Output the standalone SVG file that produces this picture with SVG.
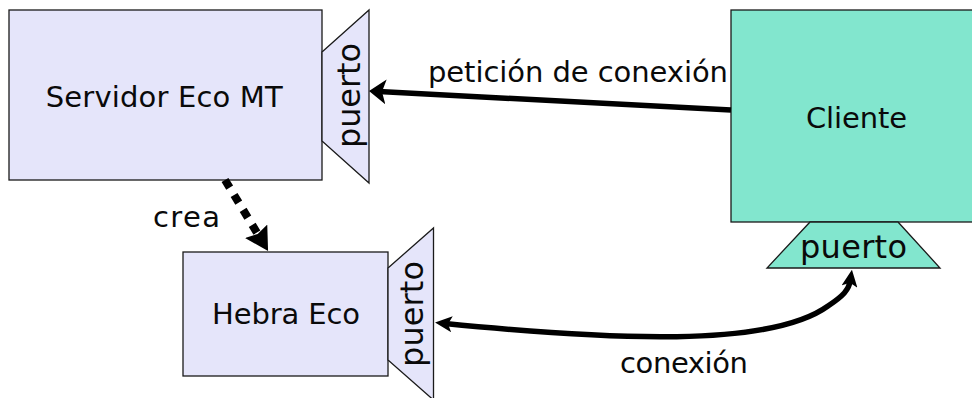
<svg xmlns="http://www.w3.org/2000/svg" width="972" height="398" viewBox="0 0 972 398">
  <style>
    .lav { fill: #E5E5FA; stroke: #1a1a1a; stroke-width: 1.3; }
    .aqua { fill: #82E6CE; stroke: #1a1a1a; stroke-width: 1.3; }
    text { font-family: "DejaVu Sans", Verdana, sans-serif; fill: #0a0a0a; }
    .lbl { font-size: 29px; }
    .port { font-size: 32px; }
    .conn { fill: none; stroke: #000; stroke-width: 5.5; }
    .dots { fill: none; stroke: #000; stroke-width: 8; stroke-dasharray: 9 8.5; }
  </style>
  <defs>
    <!-- large head for the request arrow -->
    <marker id="headL" viewBox="0 0 17 25" markerUnits="userSpaceOnUse" markerWidth="17" markerHeight="25" refX="7" refY="12.5" orient="auto">
      <path d="M0,0 L17,12.5 L0,25 L4,12.5 z" fill="#000"/>
    </marker>
    <!-- smaller head used on both ends of the connection -->
    <marker id="headS" viewBox="0 0 17 16" markerUnits="userSpaceOnUse" markerWidth="17" markerHeight="16" refX="7" refY="8" orient="auto-start-reverse">
      <path d="M0,0 L17,8 L0,16 L4,8 z" fill="#000"/>
    </marker>
    <!-- head for the dotted "crea" arrow -->
    <marker id="headD" viewBox="0 0 23 26" markerUnits="userSpaceOnUse" markerWidth="23" markerHeight="26" refX="11.3" refY="13" orient="auto">
      <path d="M0,0 L23,13 L0,26 L3,13 z" fill="#000"/>
    </marker>
  </defs>

  <g id="servidor">
    <rect class="lav" x="9" y="10" width="313" height="170"/>
    <text class="lbl" x="45.7" y="107" textLength="237" lengthAdjust="spacing">Servidor Eco MT</text>
  </g>
  <g id="servidor-puerto">
    <polygon class="lav" points="322,52 369,10 369,183 322,141"/>
    <text class="port" transform="translate(360,148) rotate(-90)" textLength="105" lengthAdjust="spacing">puerto</text>
  </g>

  <g id="hebra">
    <rect class="lav" x="183" y="252" width="205" height="124"/>
    <text class="lbl" x="212" y="324" textLength="148" lengthAdjust="spacing">Hebra Eco</text>
  </g>
  <g id="hebra-puerto">
    <polygon class="lav" points="388,268 433.5,228 433.5,400 388,360"/>
    <text class="port" transform="translate(423,367) rotate(-90)" textLength="106" lengthAdjust="spacing">puerto</text>
  </g>

  <g id="cliente">
    <rect class="aqua" x="731" y="10" width="260" height="212"/>
    <text class="lbl" x="806" y="128" textLength="101" lengthAdjust="spacing">Cliente</text>
  </g>
  <g id="cliente-puerto">
    <polygon class="aqua" points="810,222 898,222 940,268 767,268"/>
    <text class="port" x="800" y="258" textLength="107" lengthAdjust="spacing">puerto</text>
  </g>

  <g id="connectors">
    <path class="conn" d="M731,110 L379,91.5" marker-end="url(#headL)"/>
    <text class="lbl" x="428" y="82" textLength="300" lengthAdjust="spacing">petición de conexión</text>

    <path class="dots" d="M225,180 L262,241" marker-end="url(#headD)"/>
    <text class="lbl" x="153" y="227" textLength="67" lengthAdjust="spacing">crea</text>

    <path class="conn" d="M445,323.6 C610,340 770,348 828,306 C843,296 849,290 850.5,279.7" marker-start="url(#headS)" marker-end="url(#headS)"/>
    <text class="lbl" x="620" y="373" textLength="128" lengthAdjust="spacing">conexión</text>
  </g>
</svg>
